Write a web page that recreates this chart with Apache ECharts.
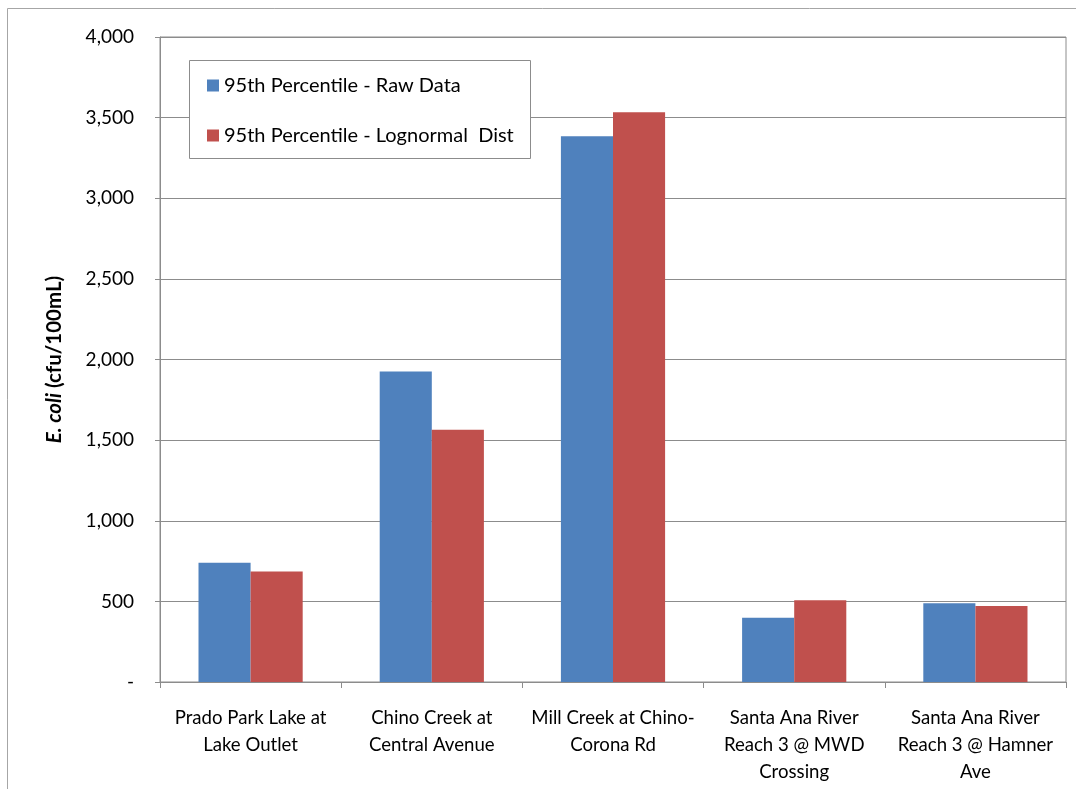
<!DOCTYPE html>
<html>
<head>
<meta charset="utf-8">
<script src="https://cdn.jsdelivr.net/npm/echarts@6/dist/echarts.min.js"></script>
<style>
html,body{margin:0;padding:0;background:#fff;}
#chart{width:1076px;height:789px;}
</style>
</head>
<body>
<div id="chart"></div>
<script>
const categories = [
  "Prado Park Lake at\nLake Outlet",
  "Chino Creek at\nCentral Avenue",
  "Mill Creek at Chino-\nCorona Rd",
  "Santa Ana River\nReach 3 @ MWD\nCrossing",
  "Santa Ana River\nReach 3 @ Hamner\nAve"
];
const seriesNames = ["95th Percentile - Raw Data", "95th Percentile - Lognormal  Dist"];
const rawData = [739, 1925, 3385, 399, 489];
const lognormalData = [685, 1565, 3534, 507, 472];
const yTicks = { min: 0, max: 4000, interval: 500 };

const FONT = "Lato";
const chart = echarts.init(document.getElementById('chart'));
chart.setOption({
  animation: false,
  backgroundColor: '#fff',
  textStyle: { fontFamily: FONT, color: '#000' },
  graphic: [
    { type: 'rect', shape: { x: 7.5, y: 8.5, width: 1200, height: 900 },
      style: { fill: 'none', stroke: '#a6a6a6', lineWidth: 1 }, z: -10, silent: true },
    { type: 'rect', shape: { x: 189.5, y: 60.5, width: 341, height: 98 },
      style: { fill: '#fff', stroke: '#8c8c8c', lineWidth: 1 }, z: 10, silent: true }
  ],
  grid: { left: 160, right: 10, top: 37, bottom: 107, show: true, borderColor: '#8c8c8c', borderWidth: 1 },
  legend: {
    data: seriesNames,
    orient: 'vertical',
    left: 190, top: 63,
    padding: [12, 0, 0, 17],
    itemWidth: 12, itemHeight: 12, itemGap: 29,
    icon: 'rect',
    z: 20,
    textStyle: { fontFamily: FONT, fontSize: 20, color: '#000', lineHeight: 21 }
  },
  xAxis: {
    type: 'category',
    data: categories,
    axisLine: { lineStyle: { color: '#8c8c8c' } },
    axisTick: { show: true, length: 6, lineStyle: { color: '#8c8c8c' } },
    axisLabel: { interval: 0, fontFamily: FONT, fontSize: 18.6, color: '#000', lineHeight: 27, margin: 22, align: 'center' }
  },
  yAxis: {
    type: 'value',
    min: yTicks.min, max: yTicks.max, interval: yTicks.interval,
    name: '{i|E. coli}{b| (cfu/100mL)}',
    nameLocation: 'middle',
    nameGap: 95,
    nameRotate: 90,
    nameTextStyle: {
      rich: {
        i: { fontFamily: FONT, fontSize: 20.5, fontWeight: 'bold', fontStyle: 'italic', color: '#000' },
        b: { fontFamily: FONT, fontSize: 20.5, fontWeight: 'bold', color: '#000' }
      }
    },
    axisLine: { show: true, lineStyle: { color: '#8c8c8c' } },
    axisTick: { show: true, length: 5, lineStyle: { color: '#8c8c8c' } },
    splitLine: { show: true, lineStyle: { color: '#8c8c8c' } },
    axisLabel: {
      fontFamily: FONT, fontSize: 19, color: '#000', margin: 26,
      formatter: v => v === 0 ? '-' : v.toLocaleString('en-US')
    }
  },
  series: [
    { name: seriesNames[0], type: 'bar', data: rawData, barGap: '0%', barCategoryGap: '42.5%',
      itemStyle: { color: '#4F81BD' } },
    { name: seriesNames[1], type: 'bar', data: lognormalData, barGap: '0%', barCategoryGap: '42.5%',
      itemStyle: { color: '#C0504D' } }
  ]
});
</script>
</body>
</html>
